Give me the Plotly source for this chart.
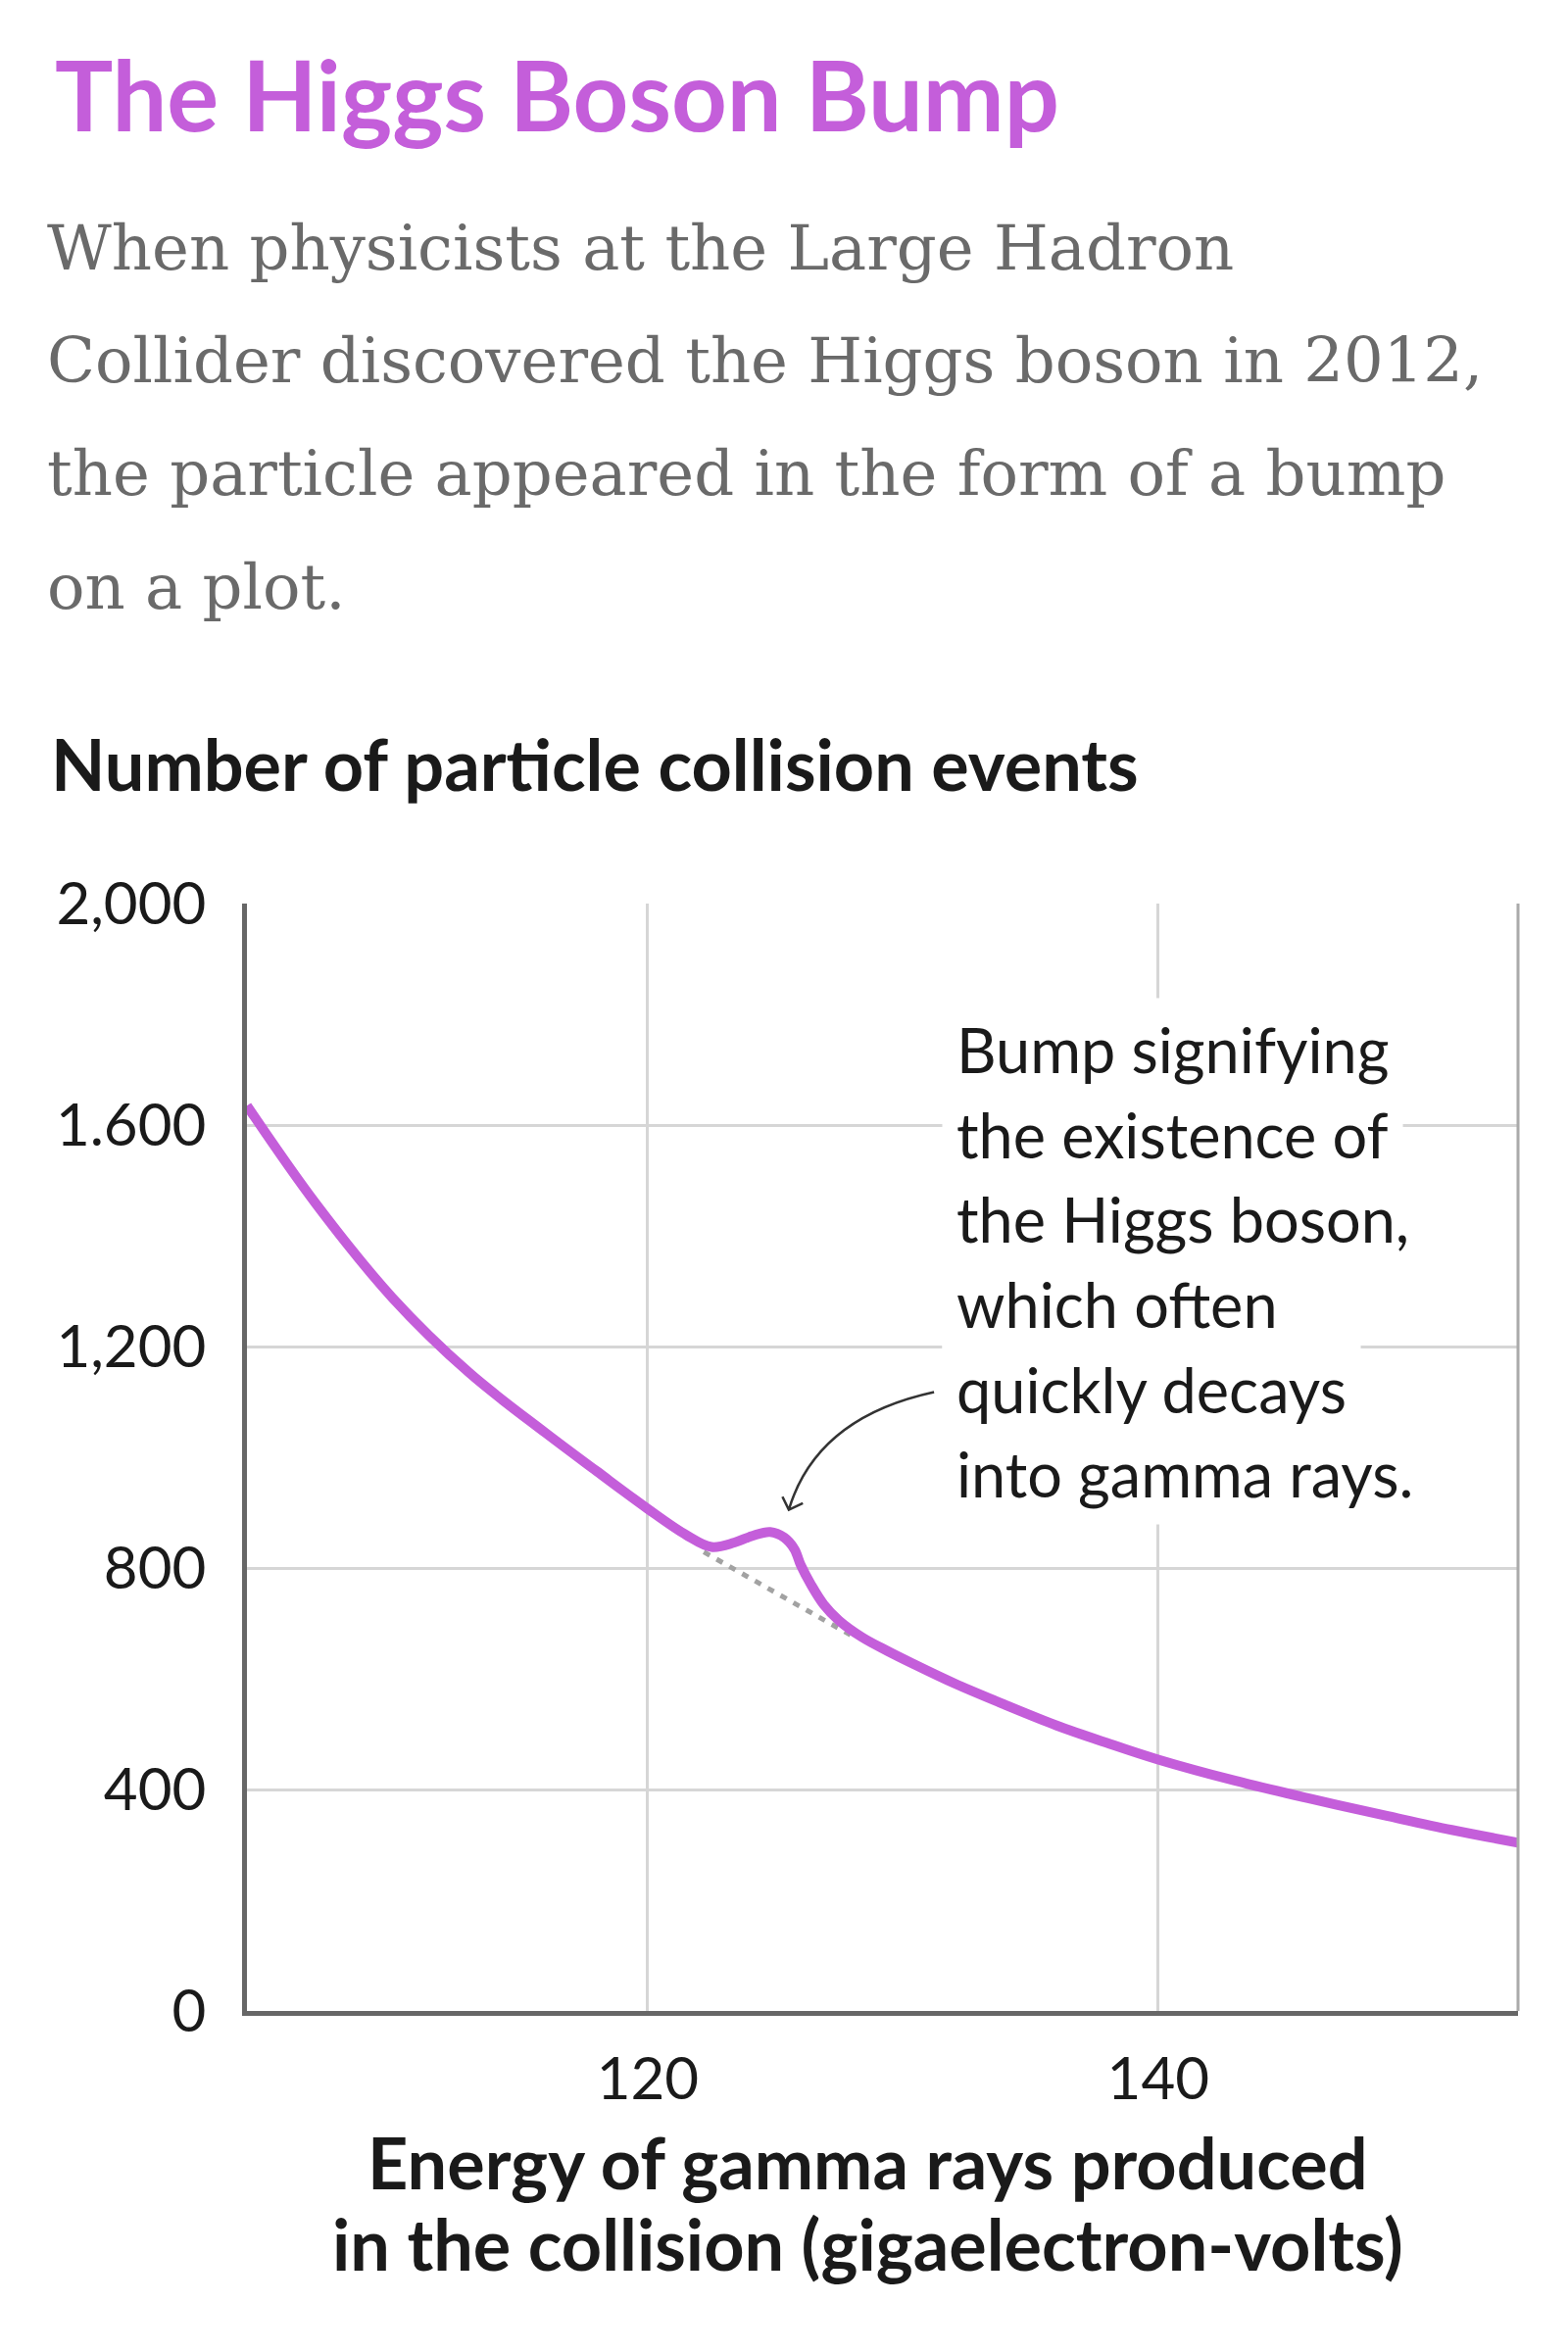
import plotly.graph_objects as go

# ---------------- data ----------------
energy_gev = [104.3, 107.0, 110.0, 113.0, 116.0, 118.0, 120.0, 121.5, 122.5, 123.4,
              124.1, 124.8, 125.35, 125.75, 126.0, 126.4, 126.9, 127.5, 128.4, 129.4,
              130.4, 132.0, 134.0, 136.0, 138.0, 140.0, 143.0, 146.0, 149.0, 151.5,
              154.1]
events = [1635, 1458, 1288, 1153, 1044, 975, 907, 860, 838, 846,
          858, 865, 855, 834, 805, 770, 734, 705, 675, 650,
          627, 592, 553, 516, 484, 454, 416, 383, 352, 327,
          304]

background_x = [122.2, 128.1]
background_y = [829, 675]

y_tick_vals = [0, 400, 800, 1200, 1600, 2000]
y_tick_text = ["0", "400", "800", "1,200", "1.600", "2,000"]
x_tick_vals = [120, 140]
x_tick_text = ["120", "140"]

title_text = "The Higgs Boson Bump"
subtitle_lines = [
    "When physicists at the Large Hadron",
    "Collider discovered the Higgs boson in 2012,",
    "the particle appeared in the form of a bump",
    "on a plot.",
]
y_title = "Number of particle collision events"
x_title_lines = ["Energy of gamma rays produced", "in the collision (gigaelectron-volts)"]
note_lines = [
    "Bump signifying",
    "the existence of",
    "the Higgs boson,",
    "which often",
    "quickly decays",
    "into gamma rays.",
]

# ---------------- layout geometry ----------------
W, H = 1600, 2400
L, R, T, B = 252, 51, 922, 348
PW, PH = W - L - R, H - T - B

PURPLE = "#C45EDA"
SANS = "Lato"
SERIF = "DejaVu Serif"


def px(xp):
    return (xp - L) / PW


def py(yp):
    return (H - B - yp) / PH


fig = go.Figure()

fig.add_trace(go.Scatter(
    x=background_x, y=background_y, mode="lines",
    line=dict(color="#A2A2A2", width=5, dash="7px,8px"),
    hoverinfo="skip", showlegend=False,
))
fig.add_trace(go.Scatter(
    x=energy_gev, y=events, mode="lines",
    line=dict(color=PURPLE, width=10, shape="spline", smoothing=1.0),
    showlegend=False,
))

annotations = []
TITLE_F, SUB_F, AX_F, TICK_F, NOTE_F = 99, 64, 72, 60, 63

annotations.append(dict(
    text=title_text, xref="paper", yref="paper", x=px(54), y=py(134 - 0.387 * TITLE_F),
    xanchor="left", yanchor="middle", showarrow=False,
    font=dict(family=SANS, size=TITLE_F, color=PURPLE, weight="bold"),
))
for i, line in enumerate(subtitle_lines):
    annotations.append(dict(
        text=line, xref="paper", yref="paper", x=px(46), y=py(274.5 + 115.5 * i - 22),
        xanchor="left", yanchor="middle", showarrow=False,
        font=dict(family=SERIF, size=SUB_F, color="#6A6A6A"),
    ))
annotations.append(dict(
    text=y_title, xref="paper", yref="paper", x=px(50), y=py(807 - 0.387 * AX_F),
    xanchor="left", yanchor="middle", showarrow=False,
    font=dict(family=SANS, size=AX_F, color="#1A1A1A", weight="bold"),
))
for i, line in enumerate(x_title_lines):
    annotations.append(dict(
        text=line, xref="paper", yref="paper", x=px(885), y=py(2234 + 83 * i - 0.387 * AX_F),
        xanchor="center", yanchor="middle", showarrow=False,
        font=dict(family=SANS, size=AX_F, color="#1A1A1A", weight="bold"),
    ))
# note lines, drawn bottom-up so each white box hides gridlines but not text
PAD = 14
for i in reversed(range(len(note_lines))):
    annotations.append(dict(
        text=note_lines[i], xref="paper", yref="paper", x=px(975 - PAD),
        y=py(1095 + 86.6 * i - 0.387 * NOTE_F),
        xanchor="left", yanchor="middle", showarrow=False, align="left",
        bgcolor="white", borderpad=PAD,
        font=dict(family=SANS, size=NOTE_F, color="#1A1A1A"),
    ))

arrow_path = ("M 131.22,1117.7 Q 126.61,1071.7 125.53,905.3 "
              "M 125.28,928.8 L 125.53,905.3 L 126.08,917.2")
shapes = [
    dict(type="path", xref="x", yref="y", path=arrow_path,
         line=dict(color="#333333", width=2.5), layer="above"),
    dict(type="line", xref="paper", yref="paper", x0=1, x1=1, y0=0, y1=1,
         line=dict(color="#AAAAAA", width=3), layer="above"),
]

fig.update_layout(
    width=W, height=H,
    margin=dict(l=L, r=R, t=T, b=B, pad=0),
    paper_bgcolor="white", plot_bgcolor="white",
    annotations=annotations, shapes=shapes,
    showlegend=False,
    xaxis=dict(
        range=[104.3, 154.1], tickvals=x_tick_vals, ticktext=x_tick_text,
        showgrid=True, gridcolor="#D6D6D6", gridwidth=2.5,
        showline=True, linecolor="#676767", linewidth=5, zeroline=False,
        ticks="", ticklabelstandoff=13,
        tickfont=dict(family=SANS, size=TICK_F, color="#1A1A1A"),
        fixedrange=True,
    ),
    yaxis=dict(
        range=[0, 2000], tickvals=y_tick_vals, ticktext=y_tick_text,
        showgrid=True, gridcolor="#D6D6D6", gridwidth=2.5,
        showline=True, linecolor="#676767", linewidth=4.5, zeroline=False,
        ticks="", ticklabelstandoff=25,
        tickfont=dict(family=SANS, size=TICK_F, color="#1A1A1A"),
        fixedrange=True,
    ),
)

fig.write_html(
    "out.html",
    config={"displayModeBar": False},
    post_script="document.body.style.margin='0';",
)
